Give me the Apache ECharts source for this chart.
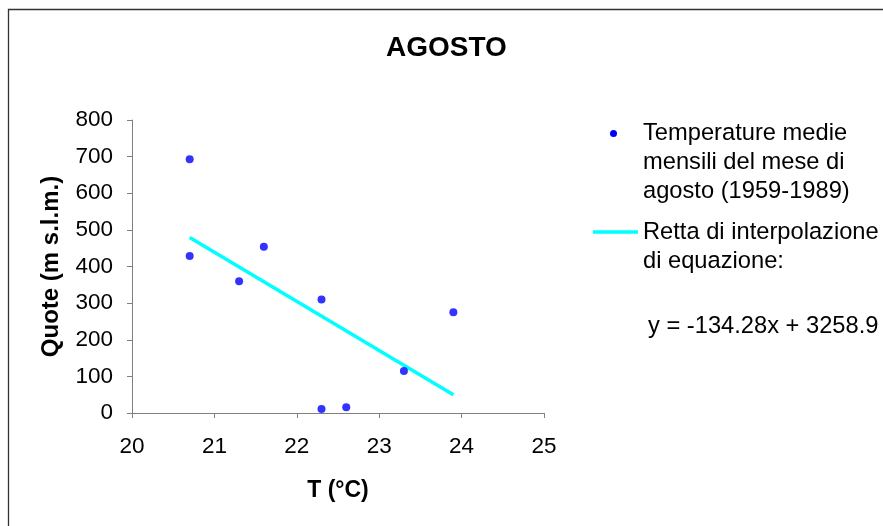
<!DOCTYPE html>
<html>
<head>
<meta charset="utf-8">
<script src="https://cdn.jsdelivr.net/npm/echarts@6/dist/echarts.min.js"></script>
<style>
  html, body { margin: 0; padding: 0; background: #fff; }
  #main { width: 883px; height: 526px; }
</style>
</head>
<body>
<div id="main"></div>
<script>
// temperature medie di agosto (°C) e quota delle stazioni (m s.l.m.)
var temperature = [20.7, 20.7, 21.3, 21.6, 22.3, 22.3, 22.6, 23.3, 23.9];
var quote = [693, 429, 360, 454, 310, 11, 16, 115, 275];

// retta di interpolazione, estremi
var rettaT = [20.7, 23.9];
var rettaQ = [479, 50];

var xTicks = [20, 21, 22, 23, 24, 25];
var yTicks = [0, 100, 200, 300, 400, 500, 600, 700, 800];

var font = '"Liberation Sans", Arial, sans-serif';

var punti = [];
for (var i = 0; i < temperature.length; i++) {
    punti.push([temperature[i], quote[i]]);
}
var retta = [];
for (var j = 0; j < rettaT.length; j++) {
    retta.push([rettaT[j], rettaQ[j]]);
}

var myChart = echarts.init(document.getElementById('main'));
myChart.setOption({
    animation: false,
    backgroundColor: '#fff',
    textStyle: { fontFamily: font, color: '#000' },
    title: {
        text: 'AGOSTO',
        left: 386,
        top: 34,
        padding: 0,
        textStyle: { fontFamily: font, fontSize: 28, fontWeight: 'bold', color: '#000' }
    },
    grid: { left: 132, right: 339, top: 120, bottom: 113 },
    xAxis: {
        type: 'value',
        min: xTicks[0],
        max: xTicks[xTicks.length - 1],
        interval: 1,
        name: 'T (°C)',
        nameLocation: 'middle',
        nameGap: 66,
        nameTextStyle: { fontFamily: font, fontSize: 23, fontWeight: 'bold', color: '#000' },
        axisLine: { lineStyle: { color: '#808080', width: 1 } },
        axisTick: { inside: false, length: 5, lineStyle: { color: '#808080' } },
        axisLabel: { fontFamily: font, fontSize: 22.5, color: '#000', margin: 22 },
        splitLine: { show: false }
    },
    yAxis: {
        type: 'value',
        min: yTicks[0],
        max: yTicks[yTicks.length - 1],
        interval: 100,
        name: 'Quote (m s.l.m.)',
        nameLocation: 'middle',
        nameGap: 69,
        nameTextStyle: { fontFamily: font, fontSize: 24, fontWeight: 'bold', color: '#000' },
        axisLine: { show: true, lineStyle: { color: '#808080', width: 1 } },
        axisTick: { show: true, inside: false, length: 5, lineStyle: { color: '#808080' } },
        axisLabel: { fontFamily: font, fontSize: 22.5, color: '#000', margin: 19 },
        splitLine: { show: false }
    },
    series: [
        {
            name: 'Temperature medie mensili del mese di agosto (1959-1989)',
            type: 'scatter',
            data: punti,
            symbol: 'circle',
            symbolSize: 8,
            itemStyle: { color: '#0000ff' },
            z: 3
        },
        {
            name: 'Retta di interpolazione',
            type: 'line',
            data: retta,
            symbol: 'none',
            lineStyle: { color: '#00ffff', width: 3.5 },
            z: 2
        }
    ],
    graphic: [
        {
            type: 'rect',
            shape: { x: 8.5, y: 9.5, width: 900, height: 600 },
            style: { fill: 'none', stroke: '#333', lineWidth: 1.3 },
            silent: true
        },
        {
            type: 'circle',
            shape: { cx: 613.5, cy: 133.5, r: 3.5 },
            style: { fill: '#0000ff' }
        },
        {
            type: 'text',
            left: 643,
            top: 118.5,
            style: {
                text: 'Temperature medie\nmensili del mese di\nagosto (1959-1989)',
                font: '23.7px ' + font,
                fill: '#000',
                lineHeight: 29
            }
        },
        {
            type: 'line',
            shape: { x1: 593, y1: 232, x2: 638, y2: 232 },
            style: { stroke: '#00ffff', lineWidth: 3.5 }
        },
        {
            type: 'text',
            left: 643,
            top: 217.5,
            style: {
                text: 'Retta di interpolazione\ndi equazione:',
                font: '23.7px ' + font,
                fill: '#000',
                lineHeight: 29
            }
        },
        {
            type: 'text',
            left: 648,
            top: 311.5,
            style: {
                text: 'y = -134.28x + 3258.9',
                font: '23.7px ' + font,
                fill: '#000',
                lineHeight: 29
            }
        }
    ]
});
</script>
</body>
</html>
